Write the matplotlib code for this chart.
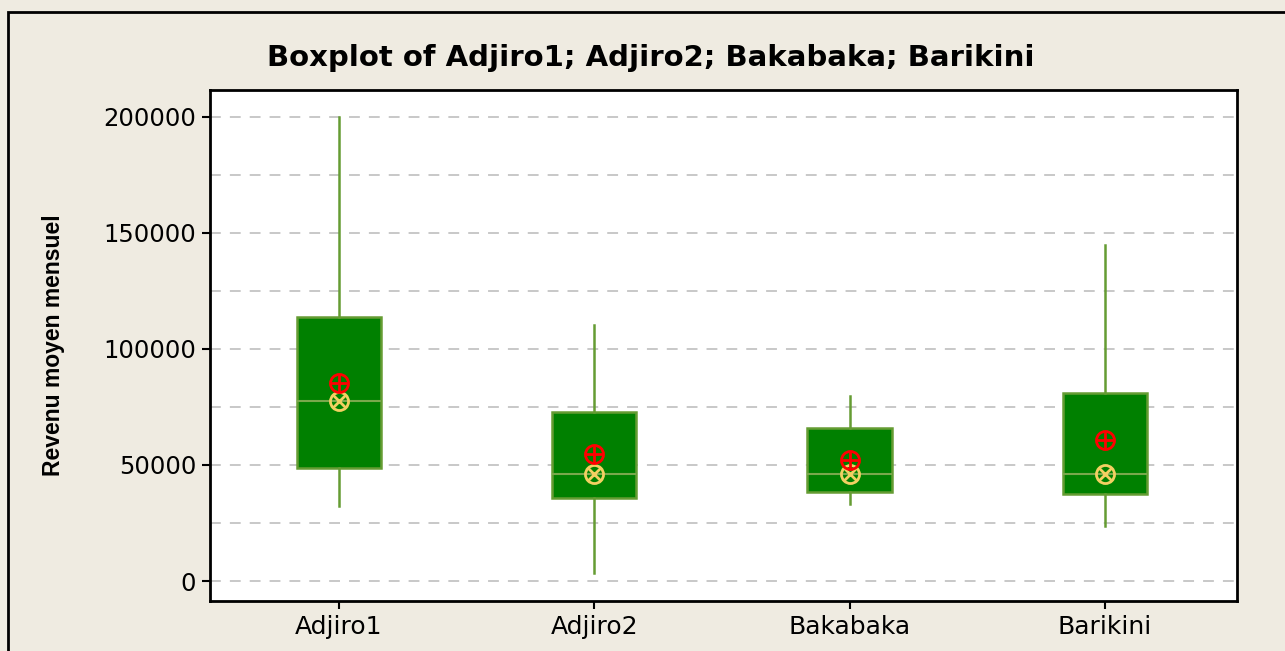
import matplotlib
matplotlib.use('Agg')
import matplotlib.pyplot as plt
from matplotlib.patches import Rectangle

# box statistics
groups = ['Adjiro1', 'Adjiro2', 'Bakabaka', 'Barikini']
whis_low = [32500, 3500, 33000, 23500]
q1 = [48700, 35800, 38400, 37500]
medians = [77500, 46000, 46000, 46000]
q3 = [114000, 72800, 66000, 81000]
whis_high = [200000, 110300, 79700, 144800]
means = [85300, 54700, 52200, 60800]

y_ticks = [0, 50000, 100000, 150000, 200000]
grid_levels = [0, 25000, 50000, 75000, 100000, 125000, 150000, 175000, 200000]

bg = '#efebe1'
box_face = '#008000'
box_edge = '#659c33'
median_line = '#79a84c'


def make_stats():
    stats = []
    for i in range(len(groups)):
        stats.append({'label': groups[i], 'whislo': whis_low[i], 'q1': q1[i],
                      'med': medians[i], 'q3': q3[i], 'whishi': whis_high[i],
                      'fliers': []})
    return stats


def plot_graph():
    fig = plt.figure(figsize=(12.85, 6.51), dpi=100, facecolor=bg)
    ax = fig.add_axes([0.1634, 0.0768, 0.7992, 0.785])
    ax.set_facecolor('white')

    # outer frame (runs off the right and bottom edges)
    fig.patches.append(Rectangle((0.0062, -0.1), 1.2, 0.9816 + 0.1, transform=fig.transFigure,
                                 fill=False, edgecolor='black', linewidth=2))

    for g in grid_levels:
        ax.axhline(g, color='#c4c4c4', linestyle=(0, (6, 5)), linewidth=1.3, zorder=0)

    pos = list(range(1, len(groups) + 1))
    ax.bxp(make_stats(), positions=pos, widths=0.33, patch_artist=True, showcaps=False,
           boxprops=dict(facecolor=box_face, edgecolor=box_edge, linewidth=1.8),
           whiskerprops=dict(color=box_edge, linewidth=1.8),
           medianprops=dict(color=median_line, linewidth=1.5), zorder=2)

    # median symbol (circle with x) and mean symbol (circle with plus)
    ax.plot(pos, medians, 'o', ms=13, mfc='none', mec='#f3d062', mew=2, zorder=4)
    ax.plot(pos, medians, 'x', ms=9, mec='#f3d062', mew=2, zorder=4)
    ax.plot(pos, means, 'o', ms=13, mfc='none', mec='red', mew=2, zorder=4)
    ax.plot(pos, means, '+', ms=13, mec='red', mew=2, zorder=4)

    ax.set_xlim(0.495, 4.517)
    ax.set_ylim(-8621, 211638)
    ax.set_xticks(pos)
    ax.set_xticklabels(groups, fontsize=18)
    ax.set_yticks(y_ticks)
    ax.set_yticklabels([str(v) for v in y_ticks], fontsize=17.5)
    ax.tick_params(direction='out', length=6, width=1.5, pad=4)

    for s in ax.spines.values():
        s.set_linewidth(2)
        s.set_color('black')

    ax.set_ylabel('Revenu moyen mensuel', fontsize=16.5, fontweight='bold',
                  family='Liberation Sans')
    ax.yaxis.set_label_coords(-0.141, 0.5)

    fig.text(0.5066, 0.911, 'Boxplot of Adjiro1; Adjiro2; Bakabaka; Barikini',
             fontsize=21, fontweight='bold', ha='center', va='center')

    fig.savefig('out.png', dpi=100, facecolor=bg)


if __name__ == '__main__':
    plot_graph()
